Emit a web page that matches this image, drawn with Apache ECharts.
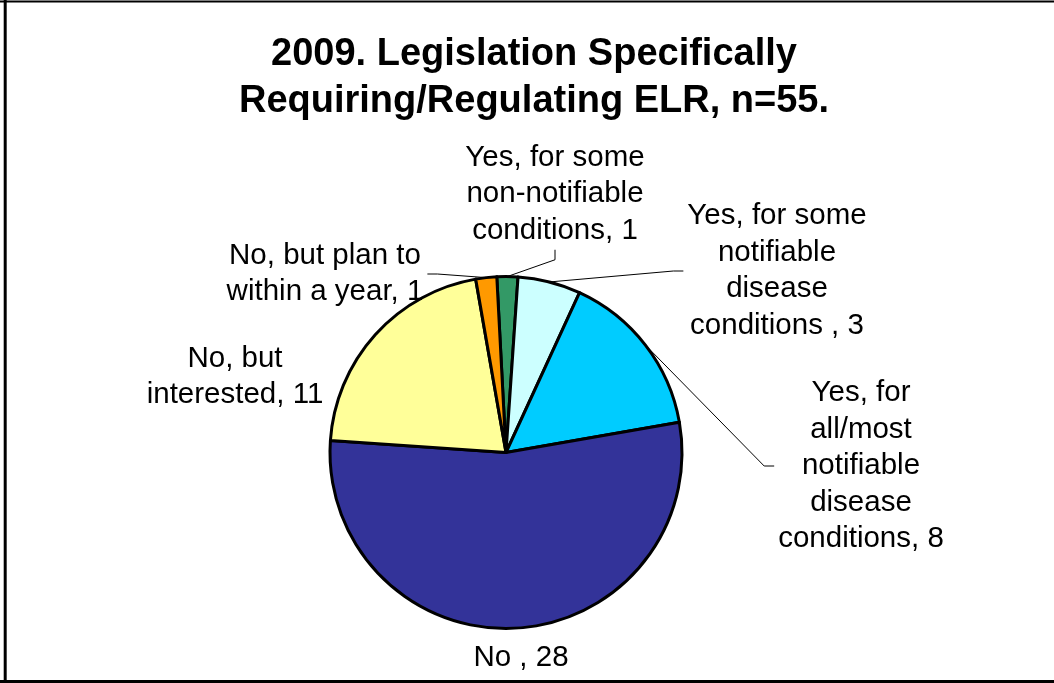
<!DOCTYPE html>
<html><head><meta charset="utf-8">
<script src="https://cdn.jsdelivr.net/npm/echarts@6/dist/echarts.min.js"></script>
<style>html,body{margin:0;padding:0;background:#fff}#c{width:1054px;height:683px}</style>
</head><body><div id="c"></div>
<script>
const titleText = "2009. Legislation Specifically\nRequiring/Regulating ELR, n=55.";
const categories = ["Yes, for some non-notifiable conditions", "Yes, for some notifiable disease conditions ", "Yes, for all/most notifiable disease conditions", "No ", "No, but interested", "No, but plan to within a year"];
const values = [1, 3, 8, 28, 11, 1];
const wrappedNames = ["Yes, for some\nnon-notifiable\nconditions", "Yes, for some\nnotifiable\ndisease\nconditions ", "Yes, for\nall/most\nnotifiable\ndisease\nconditions", "No ", "No, but\ninterested", "No, but plan to\nwithin a year"];
const colors = ['#339966', '#CCFFFF', '#00CCFF', '#333399', '#FFFF99', '#FF9900'];
const labelPos = [
  {x: 555, y: 194, side: 'bottom'},
  {x: 777, y: 271, side: 'left'},
  {x: 861, y: 466, side: 'left'},
  {x: 521, y: 658, side: null},
  {x: 235, y: 377, side: null},
  {x: 325, y: 274, side: 'right'}
];

const chart = echarts.init(document.getElementById('c'), null, {renderer: 'canvas'});
const FONT = "'Liberation Sans', Arial, sans-serif";
chart.setOption({
  animation: false,
  backgroundColor: '#fff',
  title: {
    text: titleText,
    left: 529,
    textAlign: 'center',
    top: 26,
    textStyle: {fontFamily: FONT, fontSize: 38, fontWeight: 'bold', color: '#000', lineHeight: 47}
  },
  graphic: [
    {type: 'line', shape: {x1: 5.2, y1: 0, x2: 5.2, y2: 683}, style: {stroke: '#000', lineWidth: 3}, silent: true},
    {type: 'line', shape: {x1: 0, y1: 1.5, x2: 1054, y2: 1.5}, style: {stroke: '#000', lineWidth: 2}, silent: true},
    {type: 'line', shape: {x1: 0, y1: 681.5, x2: 1054, y2: 681.5}, style: {stroke: '#000', lineWidth: 3}, silent: true}
  ],
  series: [{
    type: 'pie',
    center: [506, 452.5],
    radius: 176,
    startAngle: 93,
    clockwise: true,
    avoidLabelOverlap: false,
    emphasis: {disabled: true},
    itemStyle: {borderColor: '#000', borderWidth: 3},
    label: {
      show: true,
      formatter: p => wrappedNames[p.dataIndex] + ', ' + p.value,
      fontFamily: FONT, fontSize: 29.5, lineHeight: 36.5, color: '#000'
    },
    labelLine: {show: true, length: 10, length2: 10, lineStyle: {color: '#000', width: 1}},
    labelLayout: function (p) {
      const L = labelPos[p.dataIndex];
      const w = p.labelRect.width, h = p.labelRect.height;
      const out = {x: L.x, y: L.y, align: 'center', verticalAlign: 'middle'};
      if (L.side && p.labelLinePoints) {
        const a = p.labelLinePoints[0];
        let e0, e1;
        if (L.side === 'bottom') { e0 = [L.x, L.y + h / 2 + 1]; e1 = [L.x, L.y + h / 2 + 11]; }
        else if (L.side === 'left') { e0 = [L.x - w / 2 - 4, L.y]; e1 = [L.x - w / 2 - 14, L.y]; }
        else { e0 = [L.x + w / 2 + 4, L.y]; e1 = [L.x + w / 2 + 14, L.y]; }
        out.labelLinePoints = [a, e1, e0];
      }
      return out;
    },
    data: categories.map((c, i) => ({
      name: c, value: values[i],
      itemStyle: {color: colors[i]},
      labelLine: {show: !!labelPos[i].side}
    }))
  }]
});
</script></body></html>
